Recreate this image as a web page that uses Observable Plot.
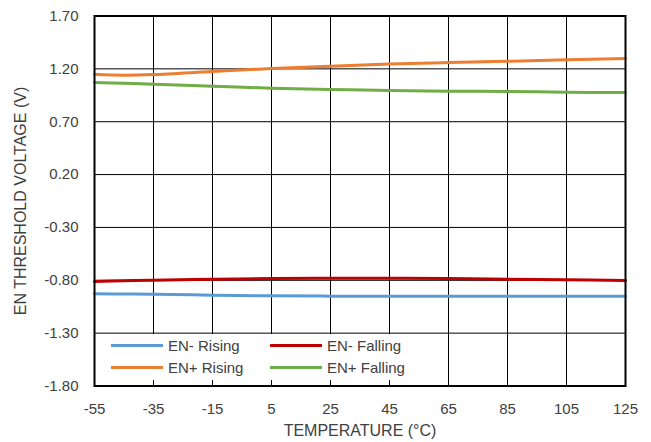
<!DOCTYPE html>
<html>
<head>
<meta charset="utf-8">
<script src="https://cdn.jsdelivr.net/npm/d3@7"></script>
<script src="https://cdn.jsdelivr.net/npm/@observablehq/plot@0.6"></script>
<style>
  html, body { margin: 0; padding: 0; background: #fff; }
  #wrap { position: relative; width: 651px; height: 442px; font-family: "Liberation Sans", Arial, sans-serif; color: #404040; }
  #legend { position: absolute; left: 96px; top: 334px; width: 324px; height: 46px; background: #fff; font-size: 15px; }
  .item { position: absolute; display: flex; align-items: center; white-space: nowrap; }
  .swatch { width: 52px; height: 3px; margin-right: 5px; }
</style>
</head>
<body>
<div id="wrap"></div>
<script>
const temps = [-55, -45, -35, -15, 5, 25, 45, 65, 85, 105, 125];
const enMinusRising  = [-0.928, -0.930, -0.932, -0.941, -0.947, -0.950, -0.951, -0.951, -0.951, -0.951, -0.951];
const enMinusFalling = [-0.812, -0.805, -0.799, -0.790, -0.783, -0.780, -0.780, -0.783, -0.790, -0.796, -0.802];
const enPlusRising   = [1.149, 1.140, 1.146, 1.175, 1.203, 1.225, 1.246, 1.260, 1.272, 1.285, 1.298];
const enPlusFalling  = [1.071, 1.063, 1.055, 1.036, 1.017, 1.005, 0.995, 0.989, 0.986, 0.979, 0.976];
const seriesNames = ["EN- Rising", "EN- Falling", "EN+ Rising", "EN+ Falling"];
const seriesColors = ["#5B9BD5", "#C00000", "#ED7D31", "#70AD47"];
const xTicks = [-55, -35, -15, 5, 25, 45, 65, 85, 105, 125];
const yTicks = [-1.8, -1.3, -0.8, -0.3, 0.2, 0.7, 1.2, 1.7];

const seriesValues = [enMinusRising, enMinusFalling, enPlusRising, enPlusFalling];
const rows = [];
seriesNames.forEach((name, i) => {
  temps.forEach((t, j) => rows.push({series: name, t, v: seriesValues[i][j]}));
});

const fontFam = '"Liberation Sans", Arial, sans-serif';
const chart = Plot.plot({
  width: 651,
  height: 442,
  marginLeft: 94,
  marginRight: 26,
  marginTop: 15.5,
  marginBottom: 56.5,
  style: {fontFamily: fontFam, fontSize: "15px", color: "#404040", background: "#fff", overflow: "visible"},
  x: {domain: [-55, 125], ticks: xTicks},
  y: {domain: [-1.8, 1.7], ticks: yTicks},
  color: {domain: seriesNames, range: seriesColors},
  marks: [
    Plot.gridX(xTicks, {stroke: "#000", strokeOpacity: 1, strokeWidth: 1}),
    Plot.gridY(yTicks, {stroke: "#000", strokeOpacity: 1, strokeWidth: 1}),
    Plot.axisX(xTicks, {tickSize: 0, tickPadding: 17, tickFormat: d => String(d), fill: "#404040", label: null}),
    Plot.axisY(yTicks, {tickSize: 0, tickPadding: 16, tickFormat: d => d.toFixed(2), fill: "#404040", label: null}),
    Plot.text(["TEMPERATURE (°C)"], {frameAnchor: "bottom", dy: 50, text: d => d, fill: "#404040", fontSize: 16}),
    Plot.text(["EN THRESHOLD VOLTAGE (V)"], {frameAnchor: "left", dx: -74, rotate: -90, textAnchor: "middle", text: d => d, fill: "#404040", fontSize: 16}),
    Plot.line(rows, {x: "t", y: "v", z: "series", stroke: "series", strokeWidth: 3, curve: "catmull-rom"}),
    Plot.frame({stroke: "#000", strokeWidth: 2})
  ]
});
const wrap = document.getElementById("wrap");
wrap.appendChild(chart);

const legend = document.createElement("div");
legend.id = "legend";
const pos = [[15, 1], [174, 1], [15, 23], [174, 23]];
seriesNames.forEach((name, i) => {
  const it = document.createElement("div");
  it.className = "item";
  it.style.left = pos[i][0] + "px";
  it.style.top = pos[i][1] + "px";
  it.style.height = "20px";
  const sw = document.createElement("span");
  sw.className = "swatch";
  sw.style.background = seriesColors[i];
  const tx = document.createElement("span");
  tx.textContent = name;
  it.appendChild(sw); it.appendChild(tx);
  legend.appendChild(it);
});
wrap.appendChild(legend);
</script>
</body>
</html>
